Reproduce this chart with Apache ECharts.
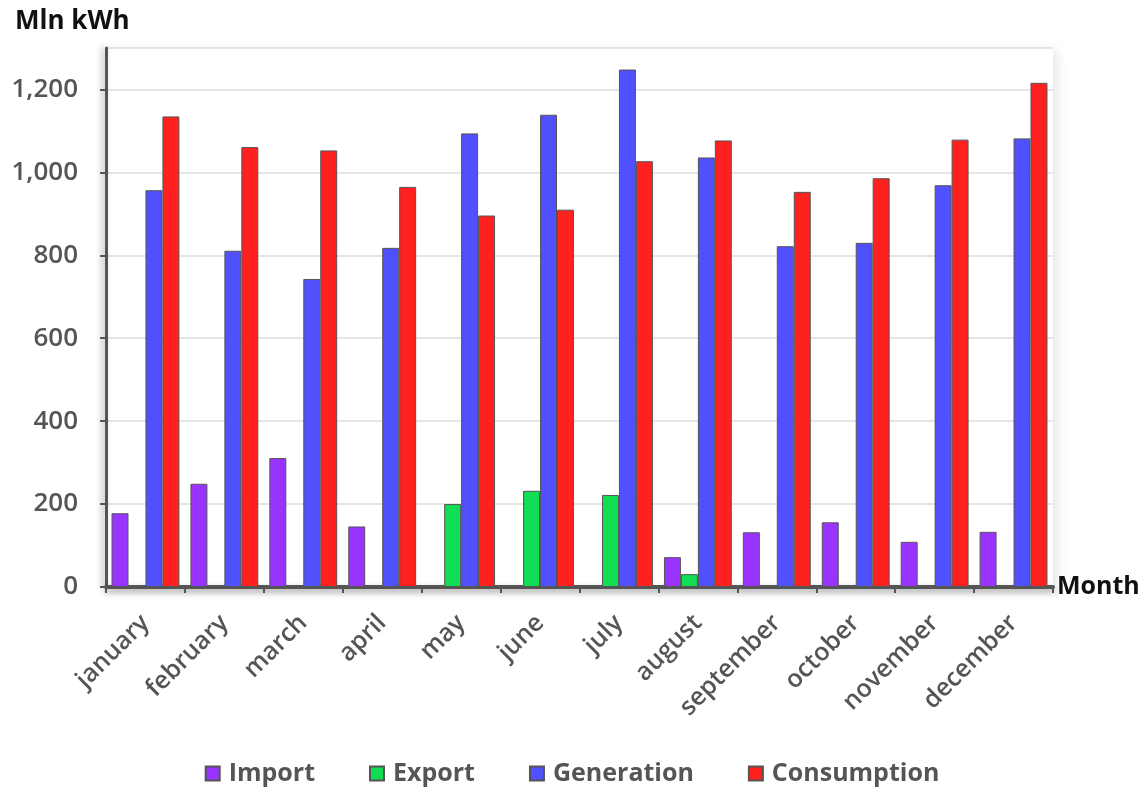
<!DOCTYPE html>
<html>
<head>
<meta charset="utf-8">
<script src="https://cdn.jsdelivr.net/npm/echarts@6/dist/echarts.min.js"></script>
<style>
  html, body { margin: 0; padding: 0; background: #fff; }
  #chart { width: 1144px; height: 791px; }
</style>
</head>
<body>
<div id="chart"></div>
<script>
const months = ['january', 'february', 'march', 'april', 'may', 'june', 'july', 'august', 'september', 'october', 'november', 'december']
const importData = [178, 249, 311, 146, null, null, null, 72, 132, 156, 109, 133]
const exportData = [null, null, null, null, 200, 232, 222, 31, null, null, null, null]
const generationData = [957, 811, 743, 818, 1094, 1139, 1248, 1036, 822, 830, 969, 1082]
const consumptionData = [1135, 1061, 1053, 965, 896, 910, 1027, 1077, 953, 986, 1079, 1216]

const chart = echarts.init(document.getElementById('chart'))

const fontFamily = '"Open Sans", "Noto Sans", sans-serif'

function barSeries(name, data, color) {
  return {
    name: name,
    type: 'bar',
    data: data,
    barGap: '0%',
    barCategoryGap: '14%',
    itemStyle: {
      color: color,
      borderColor: '#555',
      borderWidth: 1
    }
  }
}

const option = {
  textStyle: { fontFamily: fontFamily },
  title: {
    text: 'Mln kWh',
    left: 10,
    top: 4,
    textStyle: { fontSize: 26, fontWeight: 'bold', color: '#111', fontFamily: fontFamily }
  },
  legend: {
    bottom: 0,
    left: 'center',
    itemWidth: 14,
    itemHeight: 14,
    itemGap: 54,
    icon: 'rect',
    textStyle: { fontSize: 25, color: '#555', fontWeight: 'bold', fontFamily: fontFamily, padding: [0, 0, 0, 4] }
  },
  grid: {
    left: 106,
    right: 91,
    top: 48,
    bottom: 204,
    show: true,
    backgroundColor: '#fff',
    borderWidth: 0,
    shadowBlur: 12,
    shadowColor: 'rgba(0,0,0,0.12)',
    shadowOffsetX: 3,
    shadowOffsetY: 3
  },
  xAxis: {
    type: 'category',
    data: months,
    name: 'Month',
    nameLocation: 'end',
    nameGap: 4,
    nameTextStyle: { fontSize: 25, fontWeight: 'bold', color: '#111', verticalAlign: 'middle' },
    axisLine: {
      lineStyle: { color: '#555', width: 4, shadowBlur: 6, shadowColor: 'rgba(0,0,0,0.35)', shadowOffsetY: 3 }
    },
    axisTick: { show: true, length: 6, lineStyle: { color: '#555', width: 2 } },
    axisLabel: {
      rotate: 45,
      margin: 32,
      fontSize: 25,
      fontWeight: 600,
      color: '#555'
    }
  },
  yAxis: {
    type: 'value',
    min: 0,
    max: 1300,
    interval: 200,
    axisLine: {
      show: true,
      lineStyle: { color: '#555', width: 3, shadowBlur: 6, shadowColor: 'rgba(0,0,0,0.3)', shadowOffsetX: -3 }
    },
    axisTick: { show: true, length: 6, lineStyle: { color: '#555', width: 2 } },
    splitLine: { lineStyle: { color: '#ddd', width: 1.5 } },
    axisLabel: {
      fontSize: 26,
      fontWeight: 600,
      color: '#555',
      margin: 28,
      showMaxLabel: false,
      formatter: v => v.toLocaleString('en-US')
    }
  },
  series: [
    barSeries('Import', importData, '#9933ff'),
    barSeries('Export', exportData, '#11dd55'),
    barSeries('Generation', generationData, '#5050ff'),
    barSeries('Consumption', consumptionData, '#ff2020')
  ]
}

chart.setOption(option)
</script>
</body>
</html>
